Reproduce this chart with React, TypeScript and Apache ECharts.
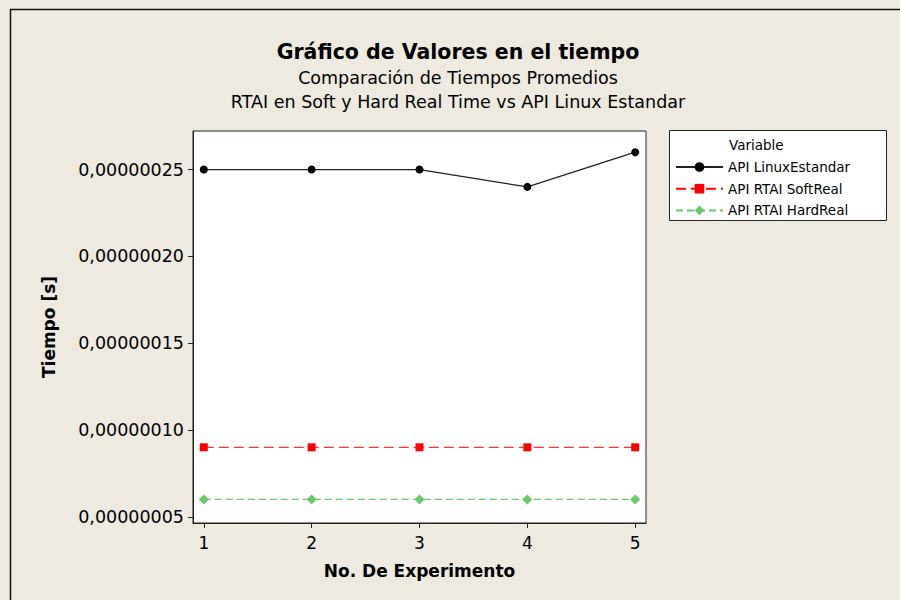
import React, { useEffect, useRef } from "react";
import * as echarts from "echarts";

const experiments = [1, 2, 3, 4, 5];
const linuxEstandar = [0.00000025, 0.00000025, 0.00000025, 0.00000024, 0.00000026];
const rtaiSoftReal = [0.00000009, 0.00000009, 0.00000009, 0.00000009, 0.00000009];
const rtaiHardReal = [0.00000006, 0.00000006, 0.00000006, 0.00000006, 0.00000006];
const yTicks = [0.00000005, 0.0000001, 0.00000015, 0.0000002, 0.00000025];
const seriesNames = ["API LinuxEstandar", "API RTAI SoftReal", "API RTAI HardReal"];

const FONT = "DejaVu Sans";

export default function App() {
  const ref = useRef<HTMLDivElement>(null);
  useEffect(() => {
    if (!ref.current) return;
    const chart = echarts.init(ref.current, null, { renderer: "svg" });
    const pairs = (ys: number[]) => experiments.map((x, i) => [x, ys[i]]);
    chart.setOption({
      animation: false,
      backgroundColor: "#EEEAE0",
      textStyle: { fontFamily: FONT },
      graphic: [
        {
          type: "rect",
          shape: { x: 10.5, y: 9.5, width: 1000, height: 1000 },
          style: { fill: "none", stroke: "#111", lineWidth: 1.5 },
          z: 0,
        },
        {
          type: "rect",
          shape: { x: 669.5, y: 130.5, width: 217, height: 90 },
          style: { fill: "#fff", stroke: "#222", lineWidth: 1 },
          z: 0,
        },
        {
          type: "text",
          style: { text: "Variable", x: 729, y: 145, textVerticalAlign: "middle", font: `13.5px '${FONT}'`, fill: "#000" },
          z: 10,
        },
        {
          type: "text",
          style: { text: "Gráfico de Valores en el tiempo", x: 458, y: 52, textAlign: "center", textVerticalAlign: "middle", font: `bold 20.5px '${FONT}'`, fill: "#000" },
        },
        {
          type: "text",
          style: { text: "Comparación de Tiempos Promedios", x: 458, y: 78, textAlign: "center", textVerticalAlign: "middle", font: `17.5px '${FONT}'`, fill: "#000" },
        },
        {
          type: "text",
          style: { text: "RTAI en Soft y Hard Real Time vs API Linux Estandar", x: 458, y: 102, textAlign: "center", textVerticalAlign: "middle", font: `17.5px '${FONT}'`, fill: "#000" },
        },
      ],
      legend: {
        data: seriesNames,
        orient: "vertical",
        left: 675,
        top: 160,
        itemWidth: 47,
        itemHeight: 12,
        itemGap: 7.7,
        padding: 0,
        textStyle: { fontSize: 13.5, lineHeight: 14, fontFamily: FONT, color: "#000" },
        z: 20,
      },
      grid: {
        left: 193,
        right: 254,
        top: 131,
        bottom: 77,
        show: true,
        backgroundColor: "#fff",
        borderColor: "#222",
        borderWidth: 1,
      },
      xAxis: {
        type: "value",
        min: 0.9,
        max: 5.1,
        name: "No. De Experimento",
        nameLocation: "middle",
        nameGap: 39,
        nameTextStyle: { fontWeight: "bold", fontSize: 17, color: "#000", fontFamily: FONT },
        axisLine: { show: true, lineStyle: { color: "#222" } },
        axisTick: { show: true, length: 5, customValues: experiments, lineStyle: { color: "#222" } },
        axisLabel: { customValues: experiments, fontSize: 17, color: "#000", margin: 11, fontFamily: FONT },
        splitLine: { show: false },
      },
      yAxis: {
        type: "value",
        min: 0.0000000464,
        max: 0.0000002722,
        name: "Tiempo [s]",
        nameLocation: "middle",
        nameGap: 136,
        nameRotate: 90,
        nameTextStyle: { fontWeight: "bold", fontSize: 17, color: "#000", fontFamily: FONT },
        axisLine: { show: true, lineStyle: { color: "#222" } },
        axisTick: { show: true, length: 5, customValues: yTicks, lineStyle: { color: "#222" } },
        axisLabel: {
          customValues: yTicks,
          fontSize: 17.5,
          color: "#000",
          margin: 9,
          fontFamily: FONT,
          formatter: (v: number) => v.toFixed(8).replace(".", ","),
        },
        splitLine: { show: false },
      },
      series: [
        {
          name: seriesNames[0],
          type: "line",
          data: pairs(linuxEstandar),
          symbol: "circle",
          symbolSize: 8,
          itemStyle: { color: "#000" },
          lineStyle: { color: "#222", width: 1.3 },
        },
        {
          name: seriesNames[1],
          type: "line",
          data: pairs(rtaiSoftReal),
          symbol: "rect",
          symbolSize: 8,
          itemStyle: { color: "#FF0000" },
          lineStyle: { color: "#FF0000", width: 1, type: [10, 5] },
        },
        {
          name: seriesNames[2],
          type: "line",
          data: pairs(rtaiHardReal),
          symbol: "diamond",
          symbolSize: 10,
          itemStyle: { color: "#66CC66" },
          lineStyle: { color: "#66CC66", width: 1.3, type: [7, 4] },
        },
      ],
    });
    return () => chart.dispose();
  }, []);
  return <div ref={ref} style={{ position: "fixed", left: 0, top: 0, width: 900, height: 600 }} />;
}
